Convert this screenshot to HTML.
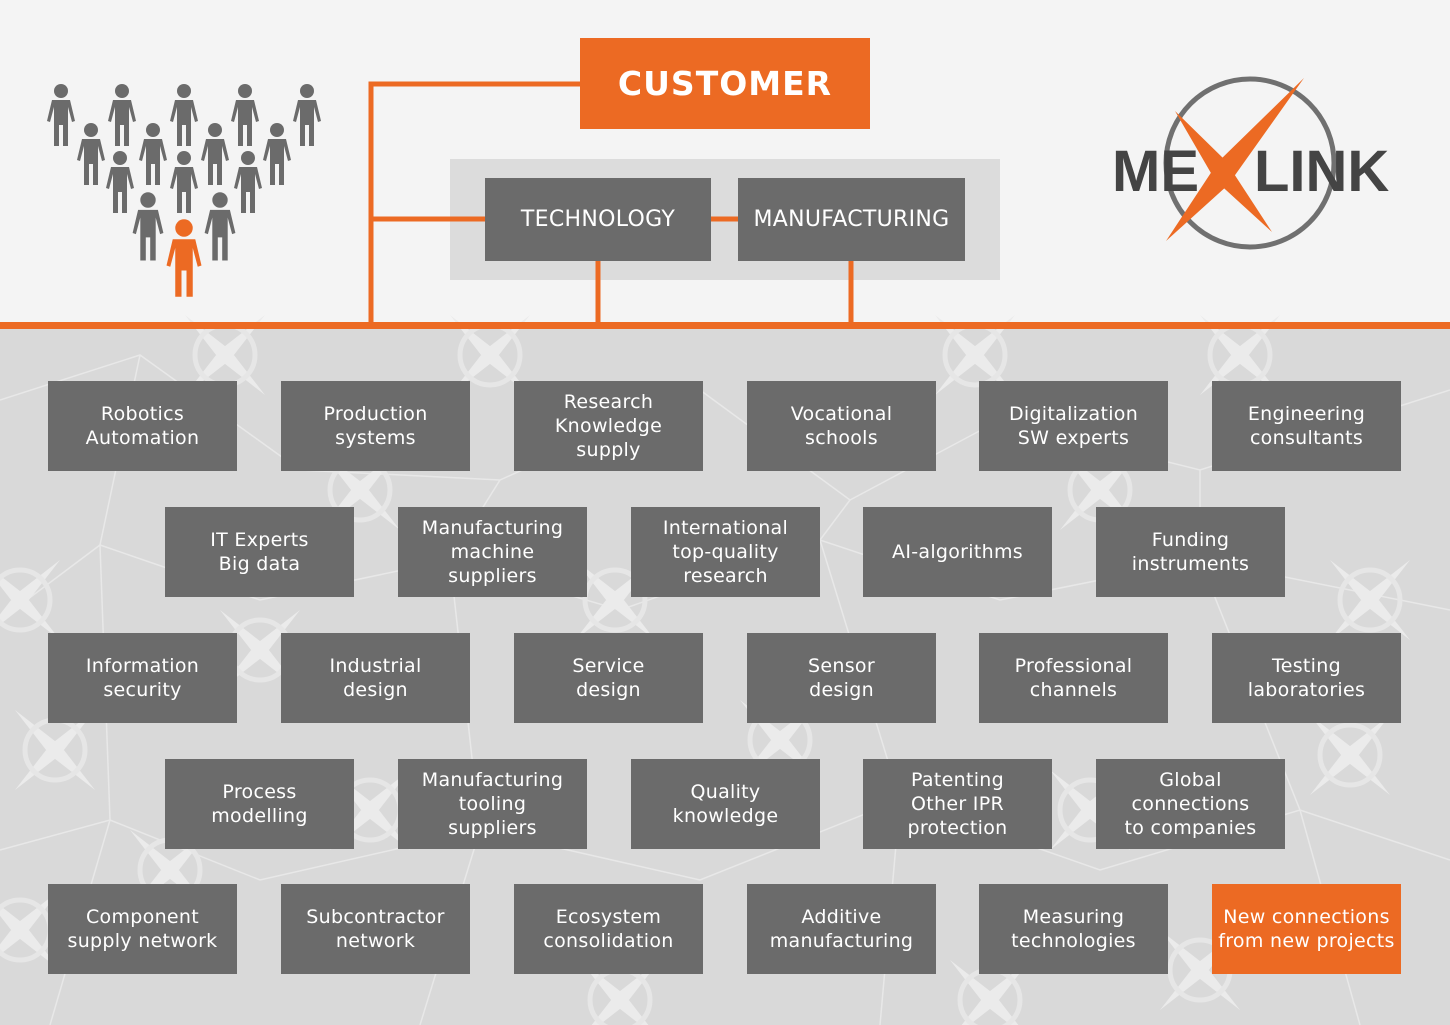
<!DOCTYPE html>
<html><head><meta charset="utf-8"><style>
body{margin:0;width:1450px;height:1025px;overflow:hidden;background:#f4f4f4;font-family:"DejaVu Sans","Liberation Sans",sans-serif}
svg{position:absolute;left:0;top:0}
.b{position:absolute;width:189px;height:90px;background:#6b6b6b;color:#fff;display:flex;align-items:center;justify-content:center;text-align:center;font-size:19px;line-height:24px;letter-spacing:0.3px}
.o{background:#ec6a23}
</style></head><body>
<svg width="1450" height="1025">
<defs>
<g id="p"><circle cx="0" cy="0" r="7"/><path d="M-9,9 H9 L14,30 L11,31 L7,16 V55 H2 V34 H-2 V55 H-7 V16 L-11,31 L-14,30 Z"/></g>
<g id="x"><path d="M-40,-40 L5,-5 L40,40 L-5,5Z M40,-40 L5,5 L-40,40 L-5,-5Z" fill="#ebebeb"/><circle r="30" fill="none" stroke="#e6e6e6" stroke-width="5"/></g>
</defs>
<rect x="0" y="325" width="1450" height="700" fill="#d9d9d9"/>
<g stroke="#e8e8e8" stroke-width="1.5" fill="none">
<path d="M0,400 L140,355 L300,470 L500,480 L700,390 L850,500 L1000,420 L1200,470 L1450,390"/>
<path d="M0,620 L100,545 L260,600 L450,560 L620,610 L820,540 L1000,600 L1200,560 L1450,610"/>
<path d="M0,850 L110,820 L260,880 L480,830 L700,880 L900,800 L1100,870 L1300,810 L1450,860"/>
<path d="M140,355 L100,545 L110,820 L50,1025 M500,480 L450,560 L480,830 L420,1025 M850,500 L820,540 L900,800 L880,1025 M1200,470 L1200,560 L1300,810 L1360,1025"/>
</g>
<use href="#x" x="225" y="355"/><use href="#x" x="490" y="355"/><use href="#x" x="975" y="355"/><use href="#x" x="1240" y="355"/>
<use href="#x" x="360" y="490"/><use href="#x" x="1100" y="490"/><use href="#x" x="20" y="600"/><use href="#x" x="615" y="600"/>
<use href="#x" x="1370" y="600"/><use href="#x" x="260" y="650"/><use href="#x" x="55" y="750"/><use href="#x" x="780" y="740"/>
<use href="#x" x="1350" y="755"/><use href="#x" x="370" y="810"/><use href="#x" x="1090" y="810"/><use href="#x" x="170" y="870"/>
<use href="#x" x="20" y="930"/><use href="#x" x="1200" y="970"/><use href="#x" x="990" y="1000"/><use href="#x" x="620" y="1000"/>
<rect x="450" y="159" width="550" height="121" fill="#dcdcdc"/>
<g stroke="#ec6a23" stroke-width="5" fill="none">
<path d="M371,325 V84 H582 M371,219 H486 M710,219 H740 M598,260 V325 M851,260 V325"/>
</g>
<rect x="0" y="322" width="1450" height="7" fill="#ec6a23"/>
<g fill="#6b6b6b">
<use href="#p" x="61" y="91"/><use href="#p" x="122" y="91"/><use href="#p" x="184" y="91"/><use href="#p" x="245" y="91"/><use href="#p" x="307" y="91"/>
<use href="#p" x="91" y="130"/><use href="#p" x="153" y="130"/><use href="#p" x="215" y="130"/><use href="#p" x="277" y="130"/>
<use href="#p" x="120" y="158"/><use href="#p" x="184" y="158"/><use href="#p" x="248" y="158"/>
<use href="#p" x="148" y="200" transform="translate(148 200) scale(1.1) translate(-148 -200)"/><use href="#p" x="220" y="200" transform="translate(220 200) scale(1.1) translate(-220 -200)"/>
</g>
<g fill="#ec6a23" transform="translate(184 228) scale(1.25)"><use href="#p"/></g>
<circle cx="1250" cy="163" r="84" fill="none" stroke="#707070" stroke-width="5"/>
<rect x="1175" y="140" width="10" height="50" fill="#f4f4f4"/>
<text x="1112" y="191" font-family="Liberation Sans" font-weight="bold" font-size="58" fill="#444">ME</text>
<text x="1254" y="191" font-family="Liberation Sans" font-weight="bold" font-size="58" fill="#444">LINK</text>
<path d="M1304,78 L1228,185 L1166,241 L1218,162Z M1175,111 L1225,160 L1272,232 L1215,180Z" fill="#ec6a23"/>
</svg>
<div class="b o" style="left:580px;top:38px;width:290px;height:91px;font-size:33px;font-weight:bold;letter-spacing:1px">CUSTOMER</div>
<div class="b" style="left:485px;top:178px;width:226px;height:83px;font-size:22px">TECHNOLOGY</div>
<div class="b" style="left:738px;top:178px;width:227px;height:83px;font-size:22px">MANUFACTURING</div>

<div class="b" style="left:48px;top:381px">Robotics<br>Automation</div>
<div class="b" style="left:281px;top:381px">Production<br>systems</div>
<div class="b" style="left:514px;top:381px">Research<br>Knowledge<br>supply</div>
<div class="b" style="left:747px;top:381px">Vocational<br>schools</div>
<div class="b" style="left:979px;top:381px">Digitalization<br>SW experts</div>
<div class="b" style="left:1212px;top:381px">Engineering<br>consultants</div>

<div class="b" style="left:165px;top:507px">IT Experts<br>Big data</div>
<div class="b" style="left:398px;top:507px">Manufacturing<br>machine<br>suppliers</div>
<div class="b" style="left:631px;top:507px">International<br>top-quality<br>research</div>
<div class="b" style="left:863px;top:507px">AI-algorithms</div>
<div class="b" style="left:1096px;top:507px">Funding<br>instruments</div>

<div class="b" style="left:48px;top:633px">Information<br>security</div>
<div class="b" style="left:281px;top:633px">Industrial<br>design</div>
<div class="b" style="left:514px;top:633px">Service<br>design</div>
<div class="b" style="left:747px;top:633px">Sensor<br>design</div>
<div class="b" style="left:979px;top:633px">Professional<br>channels</div>
<div class="b" style="left:1212px;top:633px">Testing<br>laboratories</div>

<div class="b" style="left:165px;top:759px">Process<br>modelling</div>
<div class="b" style="left:398px;top:759px">Manufacturing<br>tooling<br>suppliers</div>
<div class="b" style="left:631px;top:759px">Quality<br>knowledge</div>
<div class="b" style="left:863px;top:759px">Patenting<br>Other IPR<br>protection</div>
<div class="b" style="left:1096px;top:759px">Global<br>connections<br>to companies</div>

<div class="b" style="left:48px;top:884px">Component<br>supply network</div>
<div class="b" style="left:281px;top:884px">Subcontractor<br>network</div>
<div class="b" style="left:514px;top:884px">Ecosystem<br>consolidation</div>
<div class="b" style="left:747px;top:884px">Additive<br>manufacturing</div>
<div class="b" style="left:979px;top:884px">Measuring<br>technologies</div>
<div class="b o" style="left:1212px;top:884px">New connections<br>from new projects</div>
</body></html>
